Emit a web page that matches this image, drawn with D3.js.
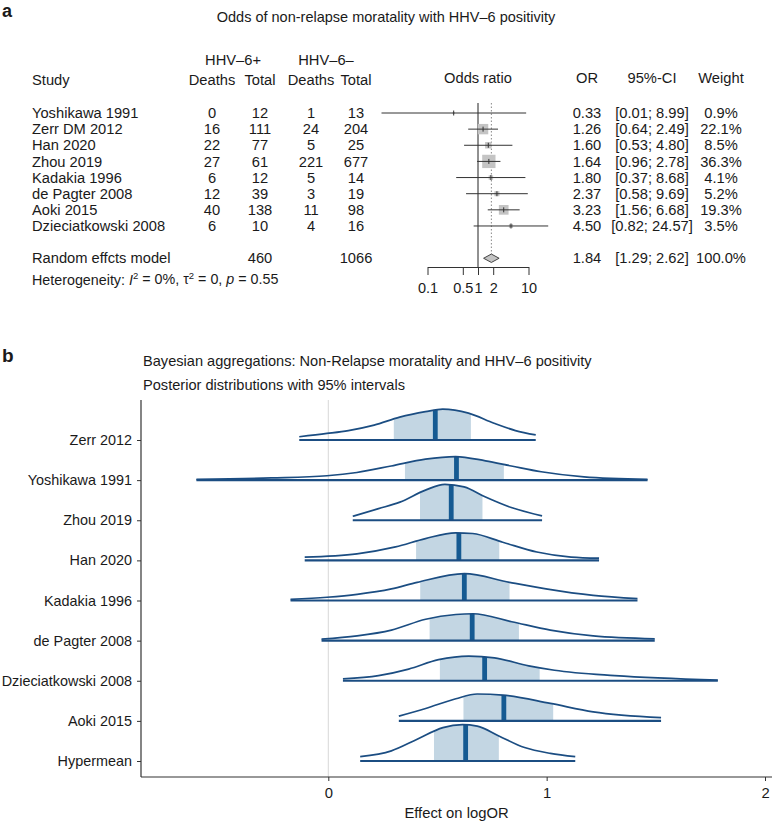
<!DOCTYPE html>
<html><head><meta charset="utf-8">
<script src="https://cdn.jsdelivr.net/npm/d3@7"></script>
<style>
body{margin:0;background:#fff;}
text{font-family:"Liberation Sans",Arial,Helvetica,sans-serif;fill:#1a1a1a;}
</style>
</head><body>
<svg id="c" width="772" height="822"></svg>
<script>
// ---------------- Panel a data ----------------
const studies   = ["Yoshikawa 1991","Zerr DM 2012","Han 2020","Zhou 2019","Kadakia 1996","de Pagter 2008","Aoki 2015","Dzieciatkowski 2008"];
const deathsPos = [0,16,22,27,6,12,40,6];
const totalPos  = [12,111,77,61,12,39,138,10];
const deathsNeg = [1,24,5,221,5,3,11,4];
const totalNeg  = [13,204,25,677,14,19,98,16];
const orVals    = [0.33,1.26,1.60,1.64,1.80,2.37,3.23,4.50];
const ciLow     = [0.01,0.64,0.53,0.96,0.37,0.58,1.56,0.82];
const ciHigh    = [8.99,2.49,4.80,2.78,8.68,9.69,6.68,24.57];
const weights   = [0.9,22.1,8.5,36.3,4.1,5.2,19.3,3.5];
const pooled    = {or:1.84, lo:1.29, hi:2.62, weight:100.0, totalPos:460, totalNeg:1066};
const orTicks   = [0.1,0.5,1,2,10];

// ---------------- Panel b data ----------------
const ridgeLabels = ["Zerr 2012","Yoshikawa 1991","Zhou 2019","Han 2020","Kadakia 1996","de Pagter 2008","Dzieciatkowski 2008","Aoki 2015","Hypermean"];
const ridgeMedian = [0.49,0.587,0.563,0.598,0.623,0.659,0.716,0.804,0.629];
const ridgeLo     = [0.30,0.351,0.420,0.402,0.421,0.464,0.511,0.619,0.484];
const ridgeHi     = [0.653,0.804,0.706,0.783,0.830,0.873,0.968,1.030,0.781];
const ridgeX = [
  [-0.133,-0.006,0.092,0.210,0.327,0.445,0.524,0.642,0.759,0.857,0.950],
  [-0.604,-0.261,-0.006,0.131,0.288,0.445,0.583,0.720,0.838,0.975,1.171,1.462],
  [0.112,0.230,0.328,0.445,0.534,0.622,0.720,0.838,0.979],
  [-0.108,0.131,0.308,0.445,0.583,0.661,0.799,0.955,1.112,1.240],
  [-0.173,-0.006,0.132,0.289,0.407,0.623,0.830,0.997,1.213,1.416],
  [-0.031,0.132,0.289,0.446,0.584,0.663,0.840,1.017,1.213,1.495],
  [0.067,0.230,0.368,0.505,0.643,0.761,0.918,1.036,1.312,1.784],
  [0.323,0.446,0.584,0.682,0.800,1.017,1.213,1.524],
  [0.146,0.289,0.407,0.525,0.614,0.682,0.781,0.899,1.017,1.131]
];
const ridgeDens = [
  [0.09,0.18,0.26,0.41,0.63,0.78,0.85,0.74,0.46,0.26,0.14],
  [0.02,0.06,0.12,0.21,0.39,0.58,0.65,0.53,0.39,0.23,0.09,0.02],
  [0.11,0.32,0.50,0.83,0.99,0.92,0.64,0.35,0.12],
  [0.09,0.18,0.37,0.60,0.76,0.74,0.50,0.23,0.09,0.06],
  [0.03,0.09,0.17,0.32,0.50,0.74,0.50,0.32,0.14,0.05],
  [0.04,0.13,0.29,0.59,0.72,0.74,0.52,0.29,0.13,0.05],
  [0.05,0.14,0.32,0.58,0.68,0.63,0.41,0.29,0.14,0.02],
  [0.13,0.34,0.61,0.74,0.71,0.48,0.25,0.09],
  [0.12,0.28,0.60,0.92,1.00,0.96,0.69,0.37,0.21,0.12]
];
const effectTicks = [0,1,2];

const svg = d3.select("#c");

// ================= Panel a =================
svg.append("text").attr("x",2).attr("y",16.5).attr("font-size",18).attr("font-weight","bold").text("a");
svg.append("text").attr("x",386).attr("y",17).attr("dy","0.35em").attr("text-anchor","middle")
  .attr("font-size",14.5).text("Odds of non-relapse moratality with HHV\u20136 positivity");

const fs = 14.7;
const row = d3.scaleLinear().domain([0,1]).range([113,129.14]);
const xOR = d3.scaleLog().domain([0.1,10]).range([427.5,528.5]);
const col = {study:32, dp:212, tp:260, dn:311, tn:356, or:587, ci:652, w:721};

function txt(x,y,s,anchor){
  return svg.append("text").attr("x",x).attr("y",y).attr("dy","0.35em")
    .attr("font-size",fs).attr("text-anchor",anchor||"middle").text(s);
}
txt(233,60,"HHV\u20136+");
txt(326,60,"HHV\u20136\u2013");
txt(col.study,80,"Study","start");
txt(col.dp,80,"Deaths"); txt(col.tp,80,"Total");
txt(col.dn,80,"Deaths"); txt(col.tn,80,"Total");
txt(xOR(1),78,"Odds ratio");
txt(col.or,78,"OR"); txt(col.ci,78,"95%-CI"); txt(col.w,78,"Weight");

studies.forEach((s,i)=>{
  const y=row(i);
  txt(col.study,y,s,"start");
  txt(col.dp,y,deathsPos[i]); txt(col.tp,y,totalPos[i]);
  txt(col.dn,y,deathsNeg[i]); txt(col.tn,y,totalNeg[i]);
  txt(col.or,y,orVals[i].toFixed(2));
  txt(col.ci,y,"["+ciLow[i].toFixed(2)+"; "+ciHigh[i].toFixed(2)+"]");
  txt(col.w,y,weights[i].toFixed(1)+"%");
});
const yR=row(9);
txt(col.study,yR,"Random effcts model","start");
txt(col.tp,yR,pooled.totalPos); txt(col.tn,yR,pooled.totalNeg);
txt(col.or,yR,pooled.or.toFixed(2));
txt(col.ci,yR,"["+pooled.lo.toFixed(2)+"; "+pooled.hi.toFixed(2)+"]");
txt(col.w,yR,pooled.weight.toFixed(1)+"%");

// heterogeneity
const het = svg.append("text").attr("x",32).attr("y",280).attr("dy","0.35em").attr("font-size",14.3);
het.append("tspan").text("Heterogeneity: ");
het.append("tspan").attr("font-style","italic").text("I");
het.append("tspan").attr("font-size",9.5).attr("dy","-0.6em").text("2");
het.append("tspan").attr("dy","0.35em").text(" = 0%, \u03c4");
het.append("tspan").attr("font-size",9.5).attr("dy","-0.6em").text("2");
het.append("tspan").attr("dy","0.35em").text(" = 0, ");
het.append("tspan").attr("font-style","italic").text("p");
het.append("tspan").text(" = 0.55");

// forest graphics
const axY = 267;
svg.append("line").attr("x1",xOR(1)).attr("x2",xOR(1)).attr("y1",103).attr("y2",axY)
  .attr("stroke","#222").attr("stroke-width",1);
svg.append("line").attr("x1",xOR(pooled.or)).attr("x2",xOR(pooled.or)).attr("y1",103).attr("y2",yR-4)
  .attr("stroke","#888").attr("stroke-width",1).attr("stroke-dasharray","1.5,2");

const sq = d3.scaleSqrt().domain([0,36.3]).range([0,13.3]);
studies.forEach((s,i)=>{
  const y=row(i);
  const side=sq(weights[i]);
  svg.append("rect").attr("x",xOR(orVals[i])-side/2).attr("y",y-side/2)
    .attr("width",side).attr("height",side).attr("fill","#c4c4c4");
  svg.append("line").attr("x1",Math.max(xOR(ciLow[i]),381.5)).attr("x2",xOR(ciHigh[i])).attr("y1",y).attr("y2",y)
    .attr("stroke","#333").attr("stroke-width",1);
  svg.append("line").attr("x1",xOR(orVals[i])).attr("x2",xOR(orVals[i])).attr("y1",y-2.5).attr("y2",y+2.5)
    .attr("stroke","#333").attr("stroke-width",1);
});
// diamond
const dH=4.2;
svg.append("path").attr("d",
  `M${xOR(pooled.lo)},${yR} L${xOR(pooled.or)},${yR-dH} L${xOR(pooled.hi)},${yR} L${xOR(pooled.or)},${yR+dH} Z`)
  .attr("fill","#c4c4c4").attr("stroke","#444").attr("stroke-width",1);

// OR axis
const gOR = svg.append("g").attr("transform",`translate(0,${axY})`)
  .call(d3.axisBottom(xOR).tickValues(orTicks).tickFormat(d=>String(d)).tickSize(8).tickSizeOuter(0).tickPadding(8));
gOR.select(".domain").attr("stroke","#333");
gOR.selectAll(".tick line").attr("stroke","#333");
gOR.selectAll("text").attr("font-size",14.5).attr("font-family","Liberation Sans, Arial, sans-serif").attr("fill","#1a1a1a");

// ================= Panel b =================
svg.append("text").attr("x",2).attr("y",362).attr("font-size",19).attr("font-weight","bold").text("b");
svg.append("text").attr("x",143).attr("y",361).attr("dy","0.35em").attr("font-size",14.6)
  .text("Bayesian aggregations: Non-Relapse moratality and HHV\u20136 positivity");
svg.append("text").attr("x",143).attr("y",385).attr("dy","0.35em").attr("font-size",14.6)
  .text("Posterior distributions with 95% intervals");

const pL=141, pR=772, pT=400, pB=777;
const xB = d3.scaleLinear().domain([0,2]).range([328.3,765]);
const yB = d3.scalePoint().domain(ridgeLabels).range([440,761]);
const hB = d3.scaleLinear().domain([0,1]).range([0,36.3]);

// zero gridline
svg.append("line").attr("x1",xB(0)).attr("x2",xB(0)).attr("y1",pT).attr("y2",pB)
  .attr("stroke","#d8d8d8").attr("stroke-width",1);

const blue="#155a92", lineBlue="#1b4d82", fillBlue="#c3d6e3";
const defs = svg.append("defs");
ridgeLabels.forEach((lab,i)=>{
  const base=yB(lab);
  const pts = ridgeX[i].map((v,j)=>[v,ridgeDens[i][j]]);
  const area = d3.area().x(d=>xB(d[0])).y0(base).y1(d=>base-hB(d[1])).curve(d3.curveMonotoneX);
  const line = d3.line().x(d=>xB(d[0])).y(d=>base-hB(d[1])).curve(d3.curveMonotoneX);
  const cid="clip"+i;
  defs.append("clipPath").attr("id",cid).append("path").attr("d",area(pts));
  const g=svg.append("g");
  g.append("rect").attr("clip-path",`url(#${cid})`)
    .attr("x",xB(ridgeLo[i])).attr("width",xB(ridgeHi[i])-xB(ridgeLo[i]))
    .attr("y",base-60).attr("height",60).attr("fill",fillBlue);
  g.append("line").attr("clip-path",`url(#${cid})`)
    .attr("x1",xB(ridgeMedian[i])).attr("x2",xB(ridgeMedian[i])).attr("y1",base).attr("y2",base-60)
    .attr("stroke",blue).attr("stroke-width",4.8);
  g.append("path").attr("d",line(pts)).attr("fill","none").attr("stroke",lineBlue).attr("stroke-width",1.7);
  g.append("line").attr("x1",xB(ridgeX[i][0])).attr("x2",xB(ridgeX[i][ridgeX[i].length-1]))
    .attr("y1",base).attr("y2",base).attr("stroke",lineBlue).attr("stroke-width",2.2);
});

// axes
svg.append("line").attr("x1",pL).attr("x2",pL).attr("y1",pT).attr("y2",pB).attr("stroke","#333").attr("stroke-width",1.2);
svg.append("line").attr("x1",pL).attr("x2",pR).attr("y1",pB).attr("y2",pB).attr("stroke","#333").attr("stroke-width",1.2);
const gX = svg.append("g").attr("transform",`translate(0,${pB})`)
  .call(d3.axisBottom(xB).tickValues(effectTicks).tickFormat(d3.format("d")).tickSize(4).tickPadding(6));
gX.select(".domain").remove();
gX.selectAll(".tick line").attr("stroke","#333");
gX.selectAll("text").attr("font-size",14.8).attr("font-family","Liberation Sans, Arial, sans-serif").attr("fill","#222");
const gY = svg.append("g").attr("transform",`translate(${pL},0)`)
  .call(d3.axisLeft(yB).tickSize(4).tickPadding(5));
gY.select(".domain").remove();
gY.selectAll(".tick line").attr("stroke","#333");
gY.selectAll("text").attr("font-size",14.4).attr("font-family","Liberation Sans, Arial, sans-serif").attr("fill","#222");

svg.append("text").attr("x",(pL+pR)/2).attr("y",813).attr("dy","0.35em").attr("text-anchor","middle")
  .attr("font-size",14.8).text("Effect on logOR");
</script>
</body></html>
